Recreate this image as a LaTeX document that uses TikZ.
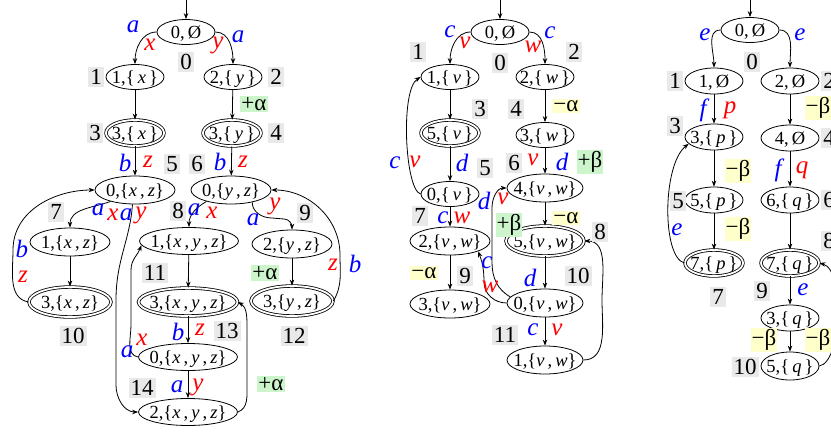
\documentclass[tikz,border=0pt]{standalone}
\usepackage{fontspec}
\setmainfont{Liberation Serif}
\usetikzlibrary{arrows.meta,shapes.geometric}
\definecolor{lblgray}{RGB}{233,233,233}
\definecolor{plusgreen}{RGB}{204,245,204}
\definecolor{minusyellow}{RGB}{255,255,204}
\definecolor{eblue}{RGB}{0,0,255}
\definecolor{ered}{RGB}{255,0,0}
\newcommand{\nt}[1]{\makebox[0pt]{\raisebox{-0.33em}[0pt][0pt]{#1}}}
\newcommand{\se}[1]{\textit{#1}}
\newcommand{\sone}[2]{\nt{#1,\{\,\se{#2}\,\}}}
\newcommand{\stwo}[3]{\nt{#1,\{\se{#2}\,,\,\se{#3}\}}}
\newcommand{\sthree}[4]{\nt{#1,\{\se{#2}\,,\,\se{#3}\,,\,\se{#4}\}}}
\newcommand{\sempty}[1]{\nt{#1,\,Ø}}
\tikzset{
  stn/.style={ellipse, draw, line width=0.8pt, fill=white, inner sep=0pt,
    minimum width=58pt, minimum height=25pt, font=\fontsize{18.5}{18.5}\selectfont},
  stw/.style={stn, minimum width=80pt, minimum height=28pt},
  stww/.style={stn, minimum width=99pt, minimum height=27pt},
  acc/.style={stn, double, double distance=1.8pt, minimum width=58pt, minimum height=26pt},
  accw/.style={acc, minimum width=82pt, minimum height=30pt},
  accww/.style={acc, minimum width=99pt, minimum height=28pt},
  arr/.style={-{Stealth[length=6pt,width=4.5pt]}, line width=0.8pt},
  gl/.style={fill=lblgray, inner xsep=2pt, inner ysep=2pt, font=\fontsize{23}{23}\selectfont},
  bl/.style={text=eblue, inner sep=0pt, font=\fontsize{25}{25}\selectfont\itshape},
  rl/.style={text=ered, inner sep=0pt, font=\fontsize{25}{25}\selectfont\itshape},
  pg/.style={fill=plusgreen, inner sep=1pt, font=\fontsize{23}{23}\selectfont},
  my/.style={fill=minusyellow, inner sep=1pt, font=\fontsize{23}{23}\selectfont},
}
\begin{document}
\begin{tikzpicture}[x=1pt,y=-1pt]
\useasboundingbox (0,0) rectangle (831,437);
% ================= left graph =================
\coordinate (Lin) at (186,0);
\node[stn] (L0) at (186,32) {\sempty{0}};
\node[stn] (L1) at (135,77) {\sone{1}{x}};
\node[stn] (L2) at (233,77) {\sone{2}{y}};
\node[acc] (L3) at (135,133) {\sone{3}{x}};
\node[acc] (L4) at (232,133) {\sone{3}{y}};
\node[stw] (L5) at (135,190) {\stwo{0}{x}{z}};
\node[stw] (L6) at (231,190) {\stwo{0}{y}{z}};
\node[stw] (L7) at (70,242) {\stwo{1}{x}{z}};
\node[stww] (L8) at (189,241) {\sthree{1}{x}{y}{z}};
\node[stw] (L9) at (292,244) {\stwo{2}{y}{z}};
\node[accw] (L10) at (70,302) {\stwo{3}{x}{z}};
\node[accww] (L11) at (188,302) {\sthree{3}{x}{y}{z}};
\node[accw] (L12) at (292,301) {\stwo{3}{y}{z}};
\node[stww] (L13) at (188,357) {\sthree{0}{x}{y}{z}};
\node[stww] (L14) at (188,412) {\sthree{2}{x}{y}{z}};

\draw[arr] (Lin) -- (L0);
\draw[arr] (L0.west) to[out=180,in=90] (L1.north);
\draw[arr] (L0.east) to[out=0,in=90] (L2.north);
\draw[arr] (L1) -- (L3);
\draw[arr] (L2) -- (L4);
\draw[arr] (L3) -- (L5);
\draw[arr] (L4) -- (L6);
\draw[arr] (L5.205) to[out=200,in=90] (L7.north);
\draw[arr] (L5.260) .. controls (130,240) and (116,260) .. (116,300) -- (116,385) to[out=270,in=180] (L14.west);
\draw[arr] (L7) -- (L10);
\draw[arr] (L10.west) to[out=170,in=270] (13,250) to[out=90,in=180] (L5.west);
\draw[arr] (L6.205) to[out=210,in=90] (L8.north);
\draw[arr] (L6.330) to[out=270,in=180] (272,218) -- (284,219) to[out=0,in=90] (L9.north);
\draw[arr] (L8) -- (L11);
\draw[arr] (L9) -- (L12);
\draw[arr] (L12.east) to[out=60,in=270] (340,255) to[out=90,in=0] (L6.east);
\draw[arr] (L11) -- (L13);
\draw[arr] (L13) -- (L14);
\draw[arr] (L13.west) to[out=170,in=270] (131,325) -- (131,270) to[out=90,in=250] (L8.185);
\draw[arr] (L14.east) to[out=20,in=270] (247,385) -- (247,325) to[out=90,in=-30] (L11.east);

\node[gl] (gL0) at (186,62) {0};
\node[gl] (gL1) at (96,77) {1};
\node[gl] (gL2) at (276,77) {2};
\node[gl] (gL3) at (95,133) {3};
\node[gl] (gL4) at (276,133) {4};
\node[gl] (gL5) at (172,164) {5};
\node[gl] (gL6) at (197,164) {6};
\node[gl] (gL7) at (56,212) {7};
\node[gl] (gL8) at (178,211) {8};
\node[gl] (gL9) at (305,213) {9};
\node[gl] (gL10) at (73,336) {10};
\node[gl] (gL11) at (155,273) {11};
\node[gl] (gL12) at (294,336) {12};
\node[gl] (gL13) at (227,331) {13};
\node[gl] (gL14) at (142,388) {14};

\node[bl] (eL1) at (133,27) {a};
\node[rl] (eL2) at (150,45) {x};
\node[rl] (eL3) at (218,45) {y};
\node[bl] (eL4) at (238,37) {a};
\node[pg] (eL5) at (254,104) {+α};
\node[bl] (eL6) at (125,163) {b};
\node[rl] (eL7) at (148,162) {z};
\node[bl] (eL8) at (220,162) {b};
\node[rl] (eL9) at (243,162) {z};
\node[bl] (eL10) at (98,210) {a};
\node[rl] (eL11) at (113,215) {x};
\node[bl] (eL12) at (126,215) {a};
\node[rl] (eL13) at (141,215) {y};
\node[bl] (eL14) at (22,249) {b};
\node[rl] (eL15) at (23,277) {z};
\node[bl] (eL16) at (194,210) {a};
\node[rl] (eL17) at (212,213) {x};
\node[rl] (eL18) at (275,206) {y};
\node[bl] (eL19) at (253,220) {a};
\node[pg] (eL20) at (265,273) {+α};
\node[rl] (eL21) at (333,265) {z};
\node[bl] (eL22) at (355,264) {b};
\node[bl] (eL23) at (178,332) {b};
\node[rl] (eL24) at (200,330) {z};
\node[bl] (eL25) at (177,387) {a};
\node[rl] (eL26) at (198,387) {y};
\node[bl] (eL27) at (127,352) {a};
\node[rl] (eL28) at (142,340) {x};
\node[pg] (eL29) at (271,384) {+α};

% ================= middle graph =================
\coordinate (Min) at (500,0);
\node[stn] (M0) at (500,32) {\sempty{0}};
\node[stn] (M1) at (450,77) {\sone{1}{v}};
\node[stn] (M2) at (545,77) {\sone{2}{w}};
\node[acc] (M5) at (450,133) {\sone{5}{v}};
\node[stn] (M3) at (545,135) {\sone{3}{w}};
\node[stn] (M0v) at (450,194) {\sone{0}{v}};
\node[stw, minimum width=76pt] (M4) at (545,188) {\stwo{4}{v}{w}};
\node[stw] (M2vw) at (450,241) {\stwo{2}{v}{w}};
\node[accw, minimum width=78pt] (M5vw) at (545,241) {\stwo{5}{v}{w}};
\node[stw] (M3vw) at (450,304) {\stwo{3}{v}{w}};
\node[stw, minimum width=76pt] (M0vw) at (545,303) {\stwo{0}{v}{w}};
\node[stw, minimum width=76pt] (M1vw) at (545,360) {\stwo{1}{v}{w}};

\draw[arr] (Min) -- (M0);
\draw[arr] (M0.west) to[out=180,in=90] (M1.north);
\draw[arr] (M0.east) to[out=0,in=90] (M2.north);
\draw[arr] (M1) -- (M5);
\draw[arr] (M2) -- (M3);
\draw[arr] (M5) -- (M0v);
\draw[arr] (M3) -- (M4);
\draw[arr] (M0v.west) .. controls (405,190) and (400,90) .. (M1.west);
\draw[arr] (M0v) -- (M2vw);
\draw[arr] (M4) -- (M5vw);
\draw[arr] (M2vw) -- (M3vw);
\draw[arr] (M5vw) -- (M0vw);
\draw[arr] (M0vw.west) to[out=180,in=270] (484,282) to[out=90,in=290] (M2vw.-20);
\draw[arr] (M0vw.170) to[out=150,in=270] (492,262) -- (492,208) to[out=90,in=180] (M4.west);
\draw[arr] (M0vw) -- (M1vw);
\draw[arr] (M1vw.east) to[out=0,in=270] (602,300) to[out=90,in=0] (M5vw.east);

\node[gl] (gM0) at (500,63) {0};
\node[gl] (gM1) at (418,52) {1};
\node[gl] (gM2) at (574,52) {2};
\node[gl] (gM3) at (480,109) {3};
\node[gl] (gM4) at (516,109) {4};
\node[gl] (gM5) at (485,168) {5};
\node[gl] (gM6) at (514,163) {6};
\node[gl] (gM7) at (420,216) {7};
\node[gl] (gM8) at (600,232) {8};
\node[gl] (gM9) at (465,276) {9};
\node[gl] (gM10) at (578,276) {10};
\node[gl] (gM11) at (505,335) {11};

\node[bl] (eM1) at (450,32) {c};
\node[rl] (eM2) at (465,43) {v};
\node[rl] (eM3) at (533,47) {w};
\node[bl] (eM4) at (550,33) {c};
\node[my] (eM5) at (566,106) {−α};
\node[bl] (eM6) at (462,163) {d};
\node[rl] (eM7) at (533,160) {v};
\node[bl] (eM8) at (562,162) {d};
\node[pg] (eM9) at (590,162) {+β};
\node[bl] (eM10) at (395,163) {c};
\node[rl] (eM11) at (415,162) {v};
\node[bl] (eM12) at (443,218) {c};
\node[rl] (eM13) at (462,218) {w};
\node[my] (eM14) at (566,218) {−α};
\node[my] (eM15) at (424,273) {−α};
\node[bl] (eM16) at (530,278) {d};
\node[bl] (eM17) at (487,263) {c};
\node[rl] (eM18) at (490,287) {w};
\node[bl] (eM19) at (484,201) {d};
\node[rl] (eM20) at (503,199) {v};
\node[pg] (eM21) at (509,225) {+β};
\node[bl] (eM22) at (533,330) {c};
\node[rl] (eM23) at (557,330) {v};

% ================= right graph =================
\coordinate (Rin) at (750,0);
\node[stn] (R0) at (750,30) {\sempty{0}};
\node[stn, minimum height=26pt] (R1) at (714,81) {\sempty{1}};
\node[stn, minimum height=26pt] (R2) at (790,81) {\sempty{2}};
\node[stn, minimum height=26pt] (R3) at (714,137) {\sone{3}{p}};
\node[stn, minimum height=26pt] (R4) at (790,138) {\sempty{4}};
\node[stn, minimum height=26pt] (R5) at (714,200) {\sone{5}{p}};
\node[stn, minimum height=26pt] (R6) at (790,200) {\sone{6}{q}};
\node[acc] (R7) at (714,263) {\sone{7}{p}};
\node[acc] (R7q) at (790,263) {\sone{7}{q}};
\node[stn, minimum height=26pt] (R3q) at (790,318) {\sone{3}{q}};
\node[stn, minimum height=28pt] (R5q) at (790,366) {\sone{5}{q}};

\draw[arr] (Rin) -- (R0);
\draw[arr] (R0.west) to[out=180,in=90] (R1.north);
\draw[arr] (R0.east) to[out=0,in=90] (R2.north);
\draw[arr] (R1) -- (R3);
\draw[arr] (R2) -- (R4);
\draw[arr] (R3) -- (R5);
\draw[arr] (R4) -- (R6);
\draw[arr] (R5) -- (R7);
\draw[arr] (R6) -- (R7q);
\draw[arr] (R7q) -- (R3q);
\draw[arr] (R3q) -- (R5q);
\draw[arr] (R7.west) .. controls (662,258) and (662,165) .. (R3.195);
\draw[arr] (R5q.east) .. controls (842,362) and (845,270) .. (R7q.east);

\node[gl] (gR0) at (752,62) {0};
\node[gl] (gR1) at (675,81) {1};
\node[gl] (gR2) at (829,81) {2};
\node[gl] (gR3) at (675,126) {3};
\node[gl] (gR4) at (829,138) {4};
\node[gl] (gR5) at (678,201) {5};
\node[gl] (gR6) at (829,200) {6};
\node[gl] (gR7) at (718,297) {7};
\node[gl] (gR8) at (829,241) {8};
\node[gl] (gR9) at (762,291) {9};
\node[gl] (gR10) at (745,367) {10};

\node[bl] (eR1) at (705,35) {e};
\node[bl] (eR2) at (800,35) {e};
\node[bl] (eR3) at (703,110) {f};
\node[rl] (eR4) at (730,110) {p};
\node[my] (eR5) at (818,108) {−β};
\node[my] (eR6) at (738,171) {−β};
\node[bl] (eR7) at (778,170) {f};
\node[rl] (eR8) at (802,170) {q};
\node[my] (eR9) at (738,229) {−β};
\node[bl] (eR10) at (677,230) {e};
\node[bl] (eR11) at (803,290) {e};
\node[my] (eR12) at (764,340) {−β};
\node[my] (eR13) at (818,340) {−β};
\end{tikzpicture}
\end{document}
